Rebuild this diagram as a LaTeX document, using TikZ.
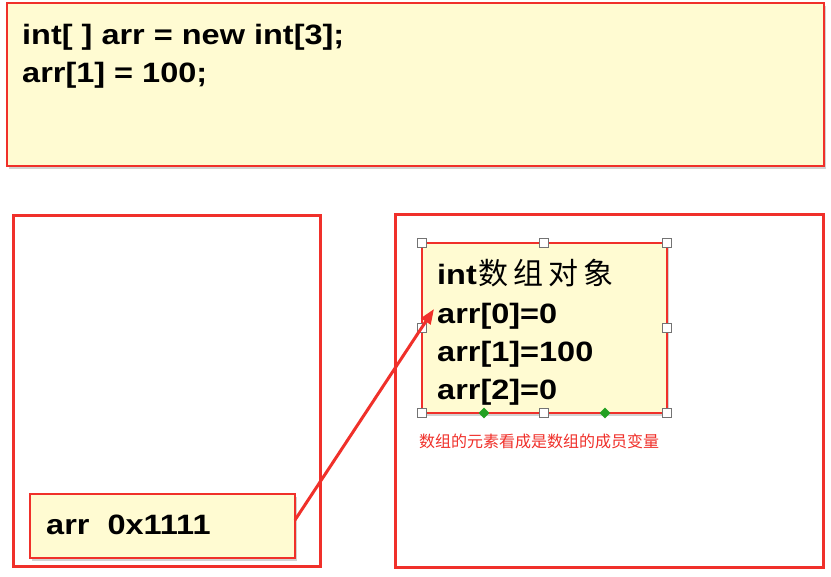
\documentclass[tikz,border=0pt]{standalone}
\usepackage{fontspec}
\setmainfont{Liberation Sans}[FakeStretch=1.16]
\newfontfamily\cjk{Noto Sans CJK SC}
\usetikzlibrary{shadows,arrows.meta,shapes.geometric}
\definecolor{boxred}{HTML}{F0302A}
\definecolor{boxfill}{HTML}{FFFBD2}
\definecolor{handlegreen}{HTML}{22A022}
\begin{document}
\begin{tikzpicture}[x=1pt,y=-1pt,
  frame/.style={draw=boxred,line width=3pt},
  notebox/.style={draw=boxred,line width=2.4pt,fill=boxfill,
    drop shadow={shadow xshift=2pt,shadow yshift=-3pt,opacity=0.35}},
  code/.style={font=\fontsize{28}{33}\selectfont\bfseries,anchor=base west,inner sep=0pt},
  handle/.style={draw=black!55,fill=white,line width=0.6pt,minimum size=9pt,inner sep=0pt},
  gdiamond/.style={diamond,fill=handlegreen,minimum width=11pt,minimum height=11pt,inner sep=0pt}]
\useasboundingbox (0,0) rectangle (831,577);
\fill[white] (0,0) rectangle (831,577);
% top code box
\draw[notebox] (7,3) rectangle (824,166);
\node[code] (c1) at (22,45) {int[ ] arr = new int[3];};
\node[code] (c2) at (22,83) {arr[1] = 100;};
% stack and heap frames
\draw[frame] (13,216) rectangle (320,566);
\draw[frame] (395,215) rectangle (823,567);
% array object
\draw[notebox] (422,243) rectangle (667,413);
\node[code] (t0) at (437,285) {int\hspace{2pt}{\cjk\mdseries\fontsize{30}{33}\selectfont 数\hspace{5pt}组\hspace{5pt}对\hspace{5pt}象}};
\node[code] (t1) at (437,324) {arr[0]=0};
\node[code] (t2) at (437,362) {arr[1]=100};
\node[code] (t3) at (437,400) {arr[2]=0};
% handles
\foreach \p in {(422,243),(544,243),(667,243),(422,328),(667,328),(422,413),(544,413),(667,413)}
  \node[handle] at \p {};
\node[gdiamond] (g1) at (484,413) {};
\node[gdiamond] (g2) at (605,413) {};
% caption
\node[anchor=base west,inner sep=0pt,text=boxred,font=\cjk\fontsize{16}{18}\selectfont] (cap) at (419,448) {数组的元素看成是数组的成员变量};
% reference variable
\draw[notebox] (30,494) rectangle (295,558);
\node[code] (v) at (46,534) {arr\ \ 0x1111};
\coordinate (vend) at (295,520);
\coordinate (tip) at (434,309);
\draw[boxred,line width=3pt,-{Triangle[length=15pt,width=11pt]}] (vend) -- (tip);
\end{tikzpicture}
\end{document}
